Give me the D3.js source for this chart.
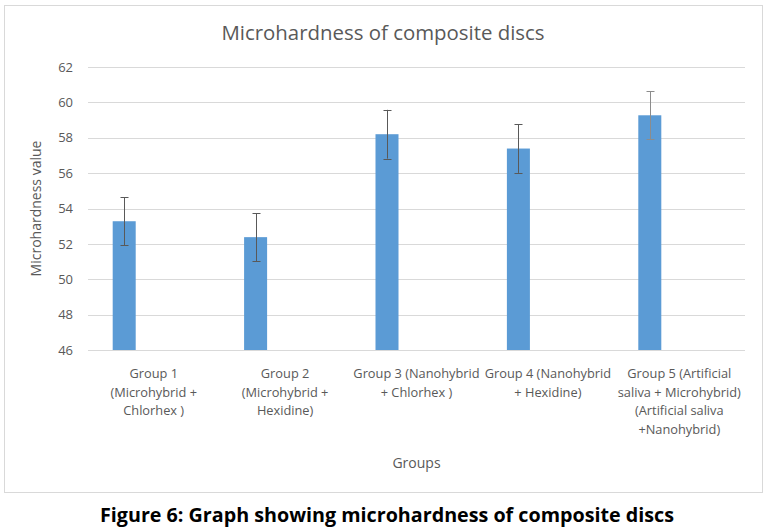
<!DOCTYPE html>
<html>
<head>
<meta charset="utf-8">
<script src="https://cdn.jsdelivr.net/npm/d3@7"></script>
<style>
  body { margin: 0; background: #fff; }
  svg { display: block; }
</style>
</head>
<body>
<svg id="chart"></svg>
<script>
// values
const groups = ["Group 1", "Group 2", "Group 3", "Group 4", "Group 5"];
const groupLabels = [
  ["Group 1", "(Microhybrid +", "Chlorhex )"],
  ["Group 2", "(Microhybrid +", "Hexidine)"],
  ["Group 3 (Nanohybrid", "+ Chlorhex )"],
  ["Group 4 (Nanohybrid", "+ Hexidine)"],
  ["Group 5 (Artificial", "saliva + Microhybrid)", "(Artificial saliva", "+Nanohybrid)"]
];
const means = [53.28, 52.38, 58.2, 57.39, 59.27];
const errors = [1.35, 1.36, 1.38, 1.38, 1.36];
const yTicks = [46, 48, 50, 52, 54, 56, 58, 60, 62];
const series = ["mean", "blank1", "blank2"]; // excel cluster slots, only first used

const width = 769, height = 530;
const font = "'Open Sans', 'Noto Sans', sans-serif";
const textCol = "#595959";

const svg = d3.select("#chart").attr("width", width).attr("height", height);

// chart frame
svg.append("rect")
  .attr("x", 4.5).attr("y", 5.5).attr("width", 758).attr("height", 487)
  .attr("fill", "#fff").attr("stroke", "#d9d9d9");

const plot = { left: 88, right: 745, top: 67, bottom: 350 };

const x = d3.scaleBand().domain(groups).range([plot.left, plot.right]).padding(0);
const y = d3.scaleLinear().domain([46, 62]).range([plot.bottom, plot.top]);

// gridlines
svg.append("g")
  .selectAll("line")
  .data(yTicks)
  .enter()
  .append("line")
  .attr("x1", plot.left).attr("x2", plot.right)
  .attr("y1", d => Math.round(y(d)) + 0.5).attr("y2", d => Math.round(y(d)) + 0.5)
  .attr("stroke", "#d9d9d9").attr("stroke-width", 1);

// y axis labels
const yAxis = svg.append("g")
  .attr("transform", `translate(${plot.left},0)`)
  .call(d3.axisLeft(y).tickValues(yTicks).tickSize(0).tickPadding(15));
yAxis.select(".domain").remove();
yAxis.selectAll("text")
  .attr("fill", textCol).style("font-family", font).style("font-size", "13px");

// bars, sitting in the first slot of each cluster
const step = 29.5;
const bars = svg.append("g");
groups.forEach((g, i) => {
  const cx = x(g) + x.bandwidth() / 2;
  const x1 = d3.scaleBand().domain(series)
    .range([cx - 1.5 * step, cx + 1.5 * step])
    .paddingInner(0.22).paddingOuter(0.11);
  const bx = x1("mean");
  bars.append("rect")
    .attr("x", bx).attr("width", x1.bandwidth())
    .attr("y", y(means[i])).attr("height", y(46) - y(means[i]))
    .attr("fill", "#5b9bd5");
  const ex = Math.round(bx + x1.bandwidth() / 2) + 0.5;
  const eb = bars.append("g").attr("stroke", i === 4 ? "#8c8c8c" : "#595959").attr("stroke-width", 1);
  eb.append("line").attr("x1", ex).attr("x2", ex)
    .attr("y1", y(means[i] + errors[i])).attr("y2", y(means[i] - errors[i]));
  [means[i] + errors[i], means[i] - errors[i]].forEach(v => {
    eb.append("line").attr("x1", ex - 4).attr("x2", ex + 4)
      .attr("y1", Math.round(y(v)) + 0.5).attr("y2", Math.round(y(v)) + 0.5);
  });
});

// category labels
const catG = svg.append("g");
groups.forEach((g, i) => {
  const cx = x(g) + x.bandwidth() / 2;
  const t = catG.append("text")
    .attr("text-anchor", "middle")
    .attr("fill", textCol).style("font-family", font).style("font-size", "12.8px");
  groupLabels[i].forEach((line, j) => {
    t.append("tspan").attr("x", cx).attr("y", 378 + j * 18.7).text(line);
  });
});

// title
svg.append("text")
  .attr("x", 383).attr("y", 40)
  .attr("text-anchor", "middle")
  .attr("fill", textCol).style("font-family", font).style("font-size", "19.5px")
  .attr("textLength", 323).attr("lengthAdjust", "spacingAndGlyphs")
  .text("Microhardness of composite discs");

// axis titles
svg.append("text")
  .attr("transform", `translate(41,${(plot.top + plot.bottom) / 2}) rotate(-90)`)
  .attr("text-anchor", "middle")
  .attr("fill", textCol).style("font-family", font).style("font-size", "14px")
  .text("Microhardness value");

svg.append("text")
  .attr("x", (plot.left + plot.right) / 2).attr("y", 468)
  .attr("text-anchor", "middle")
  .attr("fill", textCol).style("font-family", font).style("font-size", "14px")
  .text("Groups");

// figure caption
svg.append("text")
  .attr("x", 387).attr("y", 522)
  .attr("text-anchor", "middle")
  .attr("fill", "#000").style("font-family", font).style("font-size", "20px")
  .style("font-weight", "bold")
  .attr("textLength", 574).attr("lengthAdjust", "spacingAndGlyphs")
  .text("Figure 6: Graph showing microhardness of composite discs");
</script>
</body>
</html>
